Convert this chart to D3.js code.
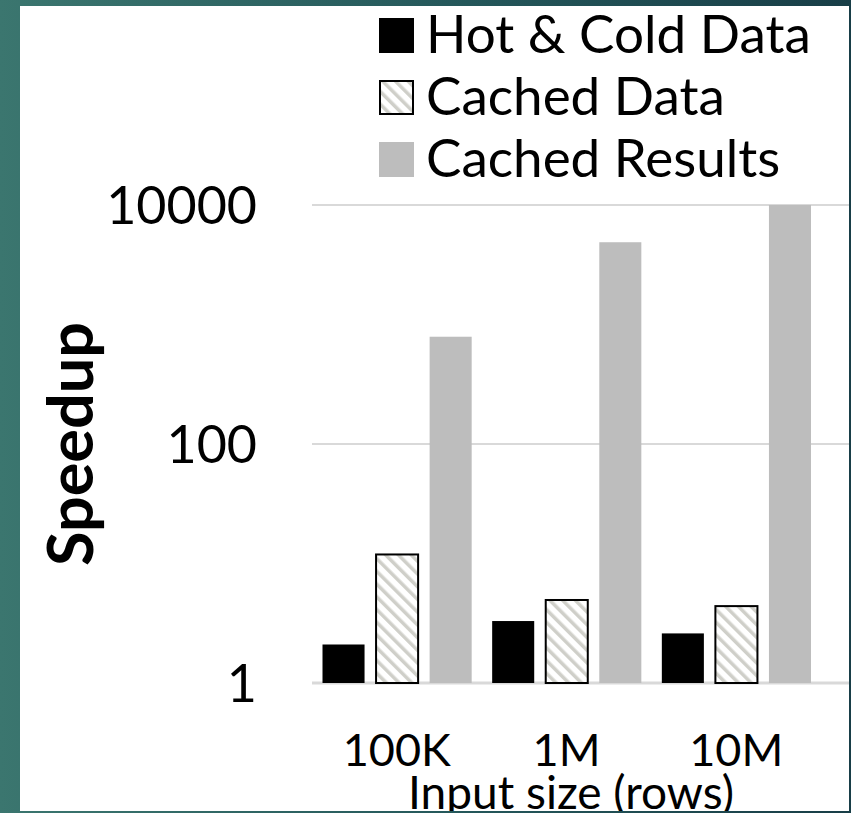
<!DOCTYPE html>
<html>
<head>
<meta charset="utf-8">
<script src="https://cdn.jsdelivr.net/npm/d3@7"></script>
<style>
    html, body { margin: 0; padding: 0; background: #2c6462; }
    svg { display: block; }
    text { font-family: Lato, "Open Sans", sans-serif; fill: #000; }
</style>
</head>
<body>
<div id="chart"></div>
<script>
// values (log scale, so estimates)
var categories = ['100K', '1M', '10M'];
var seriesNames = ['Hot & Cold Data', 'Cached Data', 'Cached Results'];
var hotColdData = [2.1, 3.3, 2.6];
var cachedData = [11.9, 4.95, 4.4];
var cachedResults = [790, 4880, 10000];
var yTickValues = [1, 100, 10000];
var yTickLabels = ['1', '100', '10000'];

var width = 851,
    height = 813;

var panel = { left: 20, top: 6, right: 849, bottom: 811 };
var plot = { left: 312, right: 821, top: 205, bottom: 683 };

var svg = d3.select('#chart').append('svg')
    .attr('width', width)
    .attr('height', height);

var defs = svg.append('defs');

// teal slide background
var bg = defs.append('linearGradient')
    .attr('id', 'bgGrad')
    .attr('x1', 0).attr('y1', 0).attr('x2', 1).attr('y2', 0);
bg.append('stop').attr('offset', '0%').attr('stop-color', '#3b766f');
bg.append('stop').attr('offset', '55%').attr('stop-color', '#24575a');
bg.append('stop').attr('offset', '100%').attr('stop-color', '#183e47');

// diagonal hatch for "Cached Data"
var hatch = defs.append('pattern')
    .attr('id', 'hatch')
    .attr('patternUnits', 'userSpaceOnUse')
    .attr('width', 9)
    .attr('height', 9)
    .attr('patternTransform', 'rotate(-45)');
hatch.append('rect')
    .attr('width', 9).attr('height', 9)
    .attr('fill', '#fff');
hatch.append('rect')
    .attr('x', 0).attr('width', 3.5).attr('height', 9)
    .attr('fill', '#cfcfc9');

svg.append('rect')
    .attr('width', width)
    .attr('height', height)
    .attr('fill', 'url(#bgGrad)');

svg.append('rect')
    .attr('x', panel.left)
    .attr('y', panel.top)
    .attr('width', panel.right - panel.left)
    .attr('height', panel.bottom - panel.top)
    .attr('fill', '#fff');

var clip = defs.append('clipPath').attr('id', 'panelClip');
clip.append('rect')
    .attr('x', panel.left)
    .attr('y', panel.top)
    .attr('width', panel.right - panel.left)
    .attr('height', panel.bottom - panel.top);

var g = svg.append('g').attr('clip-path', 'url(#panelClip)');

var series = [
    { name: seriesNames[0], values: hotColdData, fill: '#000', stroke: 'none' },
    { name: seriesNames[1], values: cachedData, fill: 'url(#hatch)', stroke: '#000' },
    { name: seriesNames[2], values: cachedResults, fill: '#bdbdbd', stroke: 'none' }
];

var x0 = d3.scaleBand()
    .domain(categories)
    .range([plot.left, plot.right]);

var x1 = d3.scaleBand()
    .domain(seriesNames)
    .range([10.5, x0.bandwidth() - 10])
    .paddingInner(0.215);

var y = d3.scaleLog()
    .domain([1, 10000])
    .range([plot.bottom, plot.top])
    .clamp(true);

// gridlines (run on past the plot to the slide edge)
g.selectAll('line.grid')
    .data(yTickValues)
  .enter().append('line')
    .attr('class', 'grid')
    .attr('x1', plot.left)
    .attr('x2', panel.right)
    .attr('y1', function(d) { return y(d); })
    .attr('y2', function(d) { return y(d); })
    .attr('stroke', '#d9d9d9')
    .attr('stroke-width', function(d) { return d == 1 ? 3 : 2; });

var groups = g.selectAll('g.cat')
    .data(categories)
  .enter().append('g')
    .attr('class', 'cat')
    .attr('transform', function(d) { return 'translate(' + x0(d) + ',0)'; });

groups.selectAll('rect')
    .data(function(cat, i) {
        return series.map(function(s) {
            return { series: s, value: s.values[i] };
        });
    })
  .enter().append('rect')
    .attr('x', function(d) { return x1(d.series.name); })
    .attr('width', x1.bandwidth())
    .attr('y', function(d) { return y(d.value); })
    .attr('height', function(d) { return y(1) - y(d.value); })
    .attr('fill', function(d) { return d.series.fill; })
    .attr('stroke', function(d) { return d.series.stroke; })
    .attr('stroke-width', 2);

// y axis labels
var yAxis = d3.axisLeft(y)
    .tickValues(yTickValues)
    .tickFormat(function(d, i) { return yTickLabels[i]; })
    .tickSize(0)
    .tickPadding(0);

var yAxisG = svg.append('g')
    .attr('transform', 'translate(257,0)')
    .call(yAxis);
yAxisG.select('.domain').remove();
yAxisG.selectAll('text')
    .style('font-family', 'Lato')
    .style('font-size', '52px')
    .attr('fill', '#000')
    .attr('dy', '0.36em');

// x axis labels
var xAxis = d3.axisBottom(x0).tickSize(0).tickPadding(0);
var xAxisG = svg.append('g')
    .attr('transform', 'translate(0,766)')
    .call(xAxis);
xAxisG.select('.domain').remove();
xAxisG.selectAll('text')
    .style('font-family', 'Lato')
    .style('font-size', '45px')
    .attr('fill', '#000')
    .attr('y', 0)
    .attr('dy', 0);

svg.append('text')
    .attr('transform', 'translate(93,' + ((plot.top + plot.bottom) / 2) + ') rotate(-90)')
    .attr('text-anchor', 'middle')
    .style('font-size', '63px')
    .style('font-weight', 'bold')
    .text('Speedup');

g.append('text')
    .attr('x', 571)
    .attr('y', 809)
    .attr('text-anchor', 'middle')
    .style('font-size', '46px')
    .text('Input size (rows)');

// legend
var legend = svg.append('g')
    .attr('transform', 'translate(379,18)');

var legendItems = legend.selectAll('g.item')
    .data(series)
  .enter().append('g')
    .attr('class', 'item')
    .attr('transform', function(d, i) { return 'translate(0,' + (i * 62) + ')'; });

legendItems.append('rect')
    .attr('x', function(d) { return d.stroke == 'none' ? 0 : 1; })
    .attr('y', function(d) { return d.stroke == 'none' ? 0 : 1; })
    .attr('width', function(d) { return d.stroke == 'none' ? 35 : 33; })
    .attr('height', function(d) { return d.stroke == 'none' ? 35 : 33; })
    .attr('fill', function(d) { return d.fill; })
    .attr('stroke', function(d) { return d.stroke; })
    .attr('stroke-width', 2);

legendItems.append('text')
    .attr('x', 47)
    .attr('y', 35)
    .style('font-size', '53px')
    .text(function(d) { return d.name; });
</script>
</body>
</html>
